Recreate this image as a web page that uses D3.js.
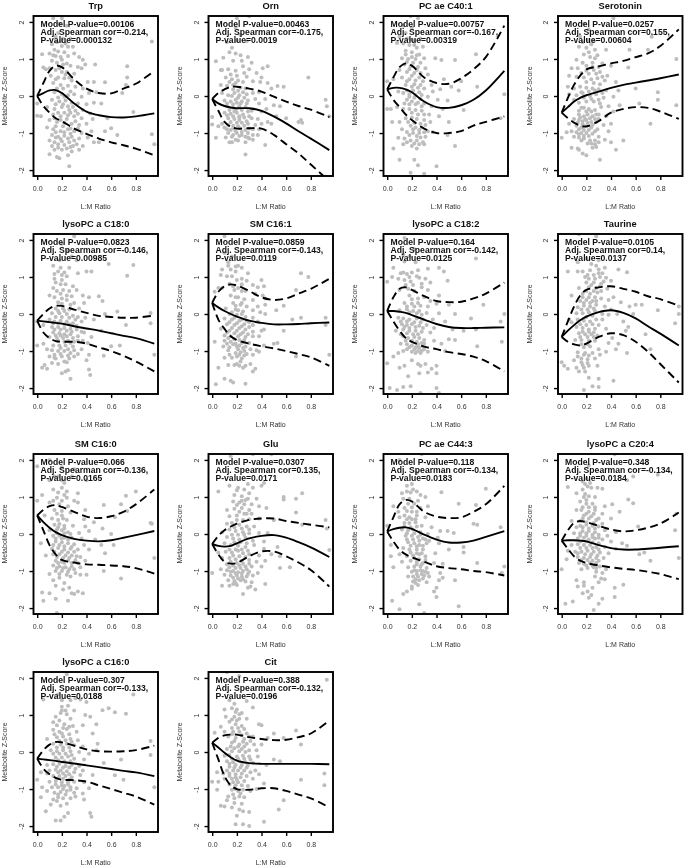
<!DOCTYPE html>
<html><head><meta charset="utf-8">
<script src="https://cdn.jsdelivr.net/npm/d3@7"></script>
<style>
html,body{margin:0;padding:0;background:#fff}
svg{display:block;filter:blur(0.4px)}
text{font-family:"Liberation Sans",Arial,sans-serif}
</style></head><body>
<svg id="chart" width="685" height="866"></svg>
<script>
const titles=["Trp","Orn","PC ae C40:1","Serotonin","lysoPC a C18:0","SM C16:1","lysoPC a C18:2","Taurine","SM C16:0","Glu","PC ae C44:3","lysoPC a C20:4","lysoPC a C16:0","Cit"];
const modelP=["0.00106","0.00463","0.00757","0.0257","0.0823","0.0859","0.164","0.0105","0.066","0.0307","0.118","0.348","0.307","0.388"];
const spearman=["-0.214","-0.175","-0.167","0.155","-0.146","-0.143","-0.142","0.14","-0.136","0.135","-0.134","-0.134","-0.133","-0.132"];
const pvals=["0.000132","0.0019","0.00319","0.00604","0.00985","0.0119","0.0125","0.0137","0.0165","0.0171","0.0183","0.0184","0.0188","0.0196"];
const xTicks=[0,.2,.4,.6,.8];
const yTicks=[-2,-1,0,1,2];
const gridX=[0,.05,.1,.15,.2,.3,.4,.5,.6,.7,.8,.95];

const midCurves=[
[0,.08,.15,.16,.08,-.2,-.42,-.52,-.57,-.58,-.55,-.47],
[-.08,-.2,-.27,-.31,-.33,-.33,-.4,-.55,-.74,-.95,-1.15,-1.46],
[.18,.22,.22,.18,.1,-.15,-.3,-.32,-.25,-.1,.15,.68],
[-.45,-.3,-.15,-.05,.02,.12,.22,.3,.36,.42,.48,.58],
[-.18,-.2,-.22,-.24,-.26,-.33,-.39,-.45,-.52,-.59,-.65,-.8],
[.3,.18,.08,0,-.07,-.18,-.24,-.28,-.28,-.27,-.25,-.23],
[.08,.08,.06,.03,-.03,-.15,-.27,-.35,-.38,-.38,-.37,-.36],
[-.62,-.45,-.3,-.17,-.07,.05,.1,.03,-.12,-.33,-.53,-.85],
[.5,.32,.17,.05,-.03,-.13,-.18,-.2,-.17,-.1,-.03,.08],
[-.27,-.32,-.34,-.32,-.25,-.12,-.05,-.03,-.1,-.22,-.36,-.62],
[.07,.13,.17,.18,.14,-.02,-.15,-.23,-.23,-.18,-.08,.08],
[-.18,-.17,-.17,-.18,-.2,-.3,-.38,-.42,-.42,-.4,-.37,-.33],
[-.18,-.2,-.22,-.24,-.27,-.31,-.36,-.41,-.46,-.51,-.55,-.65],
[.25,.12,-.02,-.14,-.23,-.3,-.32,-.32,-.32,-.32,-.32,-.33]];
const upperCurves=[
[0,.35,.68,.82,.78,.45,.2,.08,.07,.2,.33,.68],
[-.08,.08,.18,.25,.25,.2,.12,-.02,-.15,-.27,-.37,-.57],
[.18,.5,.78,.88,.82,.5,.35,.33,.48,.72,1.05,1.9],
[-.45,-.05,.3,.55,.72,.8,.88,.95,1.05,1.15,1.35,1.8],
[-.18,0,.15,.22,.22,.12,.03,-.05,-.08,-.1,-.1,-.04],
[.3,.6,.75,.8,.77,.62,.45,.38,.42,.55,.68,.95],
[.08,.45,.68,.72,.65,.48,.35,.32,.33,.42,.55,.85],
[-.62,-.2,.2,.5,.65,.72,.75,.68,.6,.48,.4,.22],
[.5,.65,.75,.78,.73,.6,.47,.43,.48,.6,.8,1.2],
[-.27,-.05,.1,.2,.28,.38,.42,.42,.35,.3,.25,.18],
[.07,.45,.8,.92,.88,.6,.47,.43,.45,.6,.8,1.3],
[-.18,.1,.3,.35,.32,.22,.12,.07,.1,.17,.28,.58],
[-.18,.05,.2,.27,.26,.17,.07,.02,.01,.02,.05,.17],
[.25,.38,.45,.47,.47,.4,.35,.32,.33,.4,.5,.85]];
const lowerCurves=[
[0,-.27,-.45,-.6,-.68,-.88,-1.02,-1.15,-1.25,-1.33,-1.42,-1.6],
[-.08,-.4,-.7,-.83,-.88,-.87,-.88,-1.05,-1.3,-1.55,-1.85,-2.3],
[.18,-.1,-.3,-.5,-.65,-.88,-1,-1,-.95,-.8,-.7,-.55],
[-.45,-.6,-.72,-.8,-.82,-.68,-.45,-.35,-.3,-.32,-.42,-.62],
[-.18,-.5,-.65,-.73,-.75,-.75,-.8,-.9,-1,-1.13,-1.28,-1.55],
[.3,-.15,-.4,-.6,-.7,-.8,-.87,-.93,-1,-1.08,-1.17,-1.4],
[.08,-.2,-.45,-.65,-.75,-.88,-.95,-1.03,-1.08,-1.15,-1.27,-1.55],
[-.62,-.75,-.82,-.85,-.8,-.62,-.52,-.57,-.75,-1.02,-1.35,-1.85],
[.5,.1,-.3,-.55,-.7,-.77,-.82,-.83,-.85,-.87,-.92,-1.07],
[-.27,-.55,-.75,-.8,-.78,-.6,-.47,-.47,-.6,-.77,-.97,-1.42],
[.07,-.2,-.42,-.55,-.63,-.75,-.87,-.92,-.95,-1,-1.03,-1.12],
[-.18,-.4,-.6,-.72,-.78,-.85,-.9,-.94,-.97,-1.02,-1.08,-1.22],
[-.18,-.45,-.6,-.7,-.75,-.76,-.8,-.9,-1,-1.1,-1.2,-1.42],
[.25,-.2,-.65,-.9,-1,-1.02,-.98,-.98,-1.05,-1.15,-1.25,-1.5]];

// x,y alternating
const pointsTrp=[.93,1.47,.95,-1.3,.93,-1.03,.73,.8,.73,.5,.72,.3,.69,.08,.78,-.43,.55,.37,.47,.85,.39,.85,.46,.38,.41,.38,.04,1.13,.05,.77,.07,.72,0,-.2,0,-.53,.03,-.55,.26,-1.9,.2,2.1,.13,2.1,.18,1.95,.24,1.9,.17,1.7,.21,1.55,.27,1.55,.16,1.45,.12,1.4,.2,1.35,.25,1.33,.29,1.33,.14,1.25,.17,1.2,.22,1.18,.3,1.15,.1,1.15,.13,1.1,.19,1.05,.25,1.08,.34,1.05,.37,.98,.12,.95,.16,.9,.21,.85,.27,.82,.33,.78,.36,.75,.1,.75,.15,.7,.2,.65,.24,.65,.3,.6,.11,.55,.17,.5,.22,.48,.28,.42,.13,.35,.19,.3,.25,.28,.31,.25,.37,.2,.14,.1,.2,.05,.25,.02,.3,.05,.36,-.02,.42,.08,.48,.1,.12,-.1,.18,-.15,.23,-.12,.28,-.18,.33,-.2,.4,-.22,.46,-.18,.52,-.2,.08,-.3,.14,-.35,.2,-.3,.26,-.38,.31,-.4,.37,-.38,.43,-.47,.13,-.5,.19,-.55,.25,-.52,.3,-.55,.36,-.6,.45,-.62,.57,-.6,.1,-.65,.16,-.7,.22,-.72,.28,-.75,.34,-.78,.4,-.75,.08,-.85,.13,-.9,.19,-.95,.25,-.9,.3,-.95,.36,-1,.44,-.95,.55,-.95,.6,-.87,.65,-1.05,.12,-1.05,.17,-1.1,.22,-1.07,.28,-1.1,.34,-1.15,.41,-1.12,.46,-1.25,.5,-1.25,.1,-1.2,.14,-1.25,.2,-1.22,.26,-1.25,.32,-1.3,.37,-1.35,.12,-1.35,.17,-1.4,.24,-1.42,.29,-1.35,.34,-1.45,.1,-1.57,.16,-1.65,.18,-1.68,.25,-1.6,.28,-1.5];
const pointsOrn=[.92,-.1,.93,-.28,.95,-.55,.78,.5,.73,-.72,.72,-.65,.58,.25,.53,.27,.48,.2,.45,.8,.41,.75,.03,.94,.07,.7,0,-.57,0,-.77,.03,-1.13,.27,-1.58,.43,-1.32,.2,2.1,.3,2.15,.19,1.85,.23,1.65,.12,1.45,.2,1.5,.28,1.48,.16,1.3,.14,1.18,.19,1.15,.23,1.1,.29,1.05,.09,1.03,.17,.95,.24,.95,.32,.9,.08,.7,.13,.72,.19,.68,.25,.8,.3,.72,.36,.62,.4,.5,.11,.5,.16,.45,.21,.42,.28,.52,.33,.4,.39,.38,.45,.35,.07,.3,.12,.28,.17,.3,.23,.22,.27,.2,.33,.08,.38,.1,.08,.08,.13,.02,.18,.08,.22,.02,.28,.05,.35,-.08,.43,-.08,.5,-.25,.55,-.28,.1,-.12,.15,-.15,.19,-.1,.24,-.15,.29,-.12,.38,-.2,.44,-.35,.12,-.28,.17,-.32,.22,-.28,.27,-.3,.32,-.4,.4,-.42,.52,-.55,.6,-.6,.7,-.7,.1,-.45,.15,-.48,.2,-.45,.25,-.5,.3,-.55,.37,-.62,.45,-.7,.13,-.6,.18,-.62,.22,-.65,.28,-.68,.35,-.78,.4,-.75,.48,-.75,.08,-.75,.13,-.78,.17,-.8,.21,-.82,.26,-.8,.3,-.88,.38,-.9,.05,-.82,.1,-.85,.15,-.92,.19,-.95,.24,-.97,.29,-1,.33,-1.05,.13,-1,.17,-1.05,.22,-1.08,.27,-1.1,.37,-1.05,.14,-1.25,.16,-1.25,.21,-1.2,.27,-1.25,.3,-1.15];
const pointsC40=[.95,.05,.92,-.6,.72,1.13,.73,.25,.6,.4,.55,.97,.44,.97,.62,-.38,.55,-1.35,.58,.15,.4,-1.9,.3,-2.1,.19,-2.07,.25,-1.87,.22,-1.72,.1,-1.72,.05,-1.42,.03,-.35,0,-.35,0,.4,.05,.45,.08,1.43,.19,2.15,.25,2.1,.13,1.9,.2,1.85,.1,1.6,.16,1.55,.22,1.5,.27,1.55,.13,1.42,.18,1.38,.24,1.3,.29,1.33,.15,1.22,.2,1.18,.26,1.12,.12,1.02,.17,1,.23,1,.3,1.02,.39,1.02,.14,.85,.19,.8,.25,.78,.31,.75,.1,.7,.16,.65,.22,.62,.27,.62,.33,.58,.12,.5,.18,.45,.23,.42,.29,.4,.36,.3,.46,.45,.15,.3,.2,.25,.25,.22,.3,.2,.37,.12,.43,.18,.52,.25,.09,.12,.13,.08,.18,.05,.23,.02,.28,.03,.33,-.02,.41,-.1,.49,-.12,.16,-.1,.2,-.15,.25,-.18,.3,-.2,.36,-.28,.45,-.35,.08,-.3,.13,-.35,.18,-.35,.23,-.38,.28,-.4,.34,-.5,.42,-.55,.1,-.7,.15,-.6,.2,-.58,.24,-.62,.3,-.65,.35,-.7,.5,-.7,.04,-.7,.19,-.8,.23,-.85,.28,-.85,.33,-.95,.12,-.9,.16,-.97,.21,-1,.26,-1,.31,-1.1,.37,-.98,.49,-1.05,.09,-1.13,.14,-1.15,.19,-1.2,.24,-1.2,.29,-1.25,.13,-1.3,.2,-1.35,.26,-1.3];
const pointsSer=[.93,1,.93,-.25,.73,1.6,.72,-.75,.7,1.25,.55,1.25,.54,.77,.6,.2,.63,-.2,.78,-.1,.78,.1,.42,2.1,.44,-1.45,.5,-1.2,.4,-1.25,.31,-1.72,0,-1.13,.04,-.98,.18,1.95,.22,1.8,.15,1.6,.21,1.52,.26,1.48,.14,1.33,.2,1.3,.27,1.25,.36,1.25,.18,1.12,.23,1.05,.29,1.1,.12,.98,.17,.9,.25,.9,.33,.88,.4,.82,.08,.75,.13,.75,.2,.68,.26,.7,.31,.65,.37,.55,.06,.55,.12,.52,.18,.5,.24,.45,.29,.48,.35,.42,.44,.38,.05,.25,.1,.2,.15,.25,.2,.22,.25,.2,.3,.18,.36,.15,.46,.15,.06,.05,.12,.02,.17,.08,.23,.0,.28,.05,.34,-.05,.42,-.02,.1,-.1,.14,-.18,.2,-.15,.26,-.15,.31,-.2,.38,-.28,.47,-.25,.18,-.32,.22,-.35,.27,-.38,.32,-.3,.42,-.42,.14,-.5,.18,-.55,.21,-.5,.25,-.55,.3,-.5,.36,-.55,.06,-.75,.1,-.62,.14,-.65,.17,-.68,.2,-.65,.24,-.7,.28,-.7,.34,-.78,.4,-.75,.12,-.8,.16,-.85,.2,-.82,.24,-.85,.29,-.9,.38,-.95,.08,-.95,.12,-.98,.16,-1,.2,-1,.25,-1.02,.3,-1.1,.1,-1.1,.14,-1.12,.18,-1.15,.23,-1.2,.27,-1.2,.35,-1.18,.08,-1.4,.13,-1.42,.17,-1.55,.2,-1.6,.25,-1.4,.28,-1.38,.14,-1.45];
const pointsC180=[.95,-1.1,.92,-.25,.92,.03,.78,1.32,.73,1.03,.72,-.3,.65,.07,.58,1.35,.67,-.85,.6,-.87,.54,-1.13,.43,-1.65,.42,-1.5,.27,-1.75,.2,-1.6,.04,-1.45,0,-.85,.05,-.8,0,-.2,.3,2.1,.2,1.9,.25,1.7,.28,1.55,.32,1.45,.18,1.45,.13,1.3,.19,1.25,.26,1.25,.4,1.15,.44,1.15,.33,1.1,.14,1.08,.2,1.05,.24,1.02,.15,.85,.19,.8,.23,.8,.29,.75,.13,.7,.21,.65,.26,.62,.32,.65,.1,.5,.14,.45,.2,.42,.37,.5,.42,.45,.5,.48,.53,.35,.17,.32,.24,.38,.3,.3,.38,.3,.55,.0,.15,.15,.21,.15,.26,.12,.34,.15,.12,.02,.18,.02,.24,.0,.29,-.05,.33,-.08,.39,-.1,.46,-.15,.1,-.15,.14,-.2,.19,-.18,.24,-.2,.29,-.25,.36,-.2,.52,-.45,.05,-.3,.12,-.35,.17,-.35,.22,-.38,.27,-.4,.32,-.42,.38,-.5,.13,-.5,.18,-.52,.22,-.55,.27,-.55,.33,-.6,.44,-.62,.1,-.62,.16,-.65,.21,-.65,.25,-.72,.3,-.75,.37,-.72,.41,-.78,.13,-.85,.18,-.85,.23,-.85,.29,-.88,.36,-.95,.08,-.95,.12,-.98,.17,-1,.22,-1,.27,-1.05,.33,-1.08,.42,-1.1,.1,-1.15,.15,-1.2,.2,-1.15,.26,-1.2,.4,-1.25,.12,-1.32,.17,-1.35,.24,-1.3,.06,-1.38,.08,-1.48,.23,-1.55,.25,-1.52];
const pointsC161=[.95,-1.1,.92,-.1,.92,-.3,.72,1.1,.78,1,.68,.65,.65,-.15,.58,.22,.58,-.45,.52,.1,.5,-.8,.72,-.1,.68,-1.15,.02,.6,.05,.7,.02,-.75,.05,-1.45,.03,-1.9,.1,-1.75,.15,-1.8,.17,-1.85,.27,-1.88,.1,2.1,.1,1.65,.16,1.55,.13,1.4,.08,1.2,.15,1.2,.21,1.3,.24,1.25,.19,1.15,.29,1.1,.07,1.05,.12,1.02,.2,.92,.28,.9,.4,.92,.42,.75,.14,.82,.24,.8,.33,.78,.37,.72,.08,.7,.18,.65,.27,.62,.35,.55,.41,.5,.43,.42,.15,.5,.21,.45,.26,.4,.33,.38,.37,.2,.43,.25,.17,.3,.23,.25,.28,.2,.11,.15,.19,.12,.25,.07,.33,.1,.39,.05,.43,.0,.14,.0,.2,-.02,.27,-.08,.33,-.1,.1,-.12,.16,-.15,.22,-.18,.3,-.22,.37,-.2,.12,-.28,.18,-.3,.24,-.33,.3,-.35,.42,-.42,.07,-.4,.14,-.45,.2,-.45,.25,-.5,.33,-.48,.4,-.45,.1,-.58,.15,-.6,.21,-.6,.27,-.62,.38,-.6,.1,-.72,.15,-.75,.19,-.8,.24,-.78,.3,-.78,.42,-.85,.53,-.78,.09,-.88,.14,-.9,.2,-.88,.25,-.92,.31,-.95,.36,-.98,.1,-1.18,.14,-1.1,.19,-1.05,.23,-1.03,.28,-1.08,.33,-1.1,.38,-1.02,.2,-1.15,.24,-1.2,.13,-1.38,.2,-1.35,.22,-1.4,.27,-1.4,.31,-1.35,.33,-1.55,.35,-1.48,.25,-1.45];
const pointsC182=[.95,0,.93,-.75,.92,-.2,.72,1.5,.73,-.87,.78,.25,.68,-.12,.62,-.45,.72,-.42,.55,0,.42,1.25,.46,1.15,.49,.9,0,-1.33,0,.87,.02,-2,.08,-2.05,.13,-1.97,.19,-1.95,.1,-1.45,.05,-1.15,.27,-2.13,.42,-2.13,.4,-2,.4,-1.4,.4,-1.6,.14,2.05,.22,1.75,.13,1.6,.18,1.55,.14,1.42,.23,1.4,.05,1.25,.11,1.1,.16,1.08,.2,1.12,.33,1.22,.25,1.18,.04,1,.09,.95,.14,.92,.19,.88,.26,.98,.31,.95,.35,.85,.1,.65,.17,.68,.22,.62,.28,.72,.33,.65,.42,.5,.18,.5,.25,.42,.3,.45,.35,.35,.5,.25,.14,.3,.2,.28,.27,.22,.33,.2,.4,.28,.1,.1,.16,.13,.21,.08,.26,.08,.32,.03,.42,.02,.09,-.1,.13,-.12,.18,-.15,.24,-.12,.29,-.15,.37,-.15,.47,-.2,.53,-.42,.12,-.28,.16,-.3,.2,-.28,.26,-.32,.32,-.3,.38,-.38,.07,-.45,.13,-.42,.18,-.45,.23,-.45,.28,-.48,.35,-.5,.5,-.68,.55,-.7,.13,-.6,.17,-.65,.22,-.62,.26,-.65,.3,-.7,.38,-.72,.44,-.8,.11,-.8,.16,-.82,.2,-.85,.25,-.88,.29,-.88,.09,-1.05,.16,-.95,.22,-.95,.25,-1,.28,-1,.33,-1.02,.47,-1,.13,-1,.25,-1.35,.27,-1.4,.31,-1.35,.17,-1.68,.26,-1.6,.33,-1.58,.36,-1.48,.14,-1.4,.2,-1.25];
const pointsTau=[.95,0,.95,.2,.92,-.25,.72,-.95,.68,-.55,.78,.1,.65,.25,.6,.25,.58,0,.53,-1.05,.53,1.13,.46,1.2,.42,-1.8,.3,-1.75,.25,-1.95,.18,-2.05,.3,-1.97,0,-1.3,.02,-1.4,.05,-1.48,.05,1.15,.13,1.15,.14,2.15,.28,2.1,.2,1.5,.13,1.4,.3,1.45,.17,1.15,.23,1.18,.3,1.2,.35,1.25,.26,1.05,.19,1,.31,1,.36,.98,.2,.85,.26,.85,.32,.82,.4,.9,.14,.7,.22,.72,.28,.7,.37,.68,.08,.5,.17,.55,.23,.55,.29,.58,.42,.45,.48,.32,.15,.35,.2,.38,.25,.35,.32,.42,.38,.38,.55,.2,.13,.18,.18,.22,.23,.2,.28,.25,.35,.2,.4,.12,.45,.0,.06,-.15,.12,.02,.17,.02,.22,.05,.27,.08,.33,.0,.38,-.02,.08,-.22,.13,-.15,.18,-.18,.23,-.2,.28,-.15,.33,-.15,.5,-.2,.54,-.35,.12,-.35,.17,-.38,.22,-.42,.27,-.4,.36,-.4,.52,-.45,.14,-.52,.19,-.55,.24,-.55,.29,-.58,.41,-.65,.11,-.7,.16,-.7,.22,-.72,.27,-.72,.38,-.78,.46,-.8,.44,-.95,.18,-.9,.23,-.88,.3,-.95,.36,-1.02,.13,-1.03,.19,-1.05,.25,-1.05,.31,-1.1,.1,-1.25,.16,-1.2,.21,-1.22,.27,-1.2,.12,-1.45,.17,-1.38,.22,-1.4,.19,-1.55,.22,-1.72,.14,-1.55,.29,-1.4];
const pointsC160=[.95,-.65,.93,.28,.92,.3,.8,1.15,.72,1.03,.73,.62,.68,.8,.68,-1.2,.63,.45,.54,.78,.53,.15,.54,-1,.62,-.3,.6,0,0,1.83,0,.9,.04,1.05,.03,-.25,.04,-1.58,.05,-1.8,.1,-1.6,.16,-2.13,.15,-1.75,.25,-1.8,.3,-1.62,.33,-1.55,.37,-1.6,.1,1.45,.1,2,.2,1.8,.3,1.75,.14,1.55,.2,1.45,.4,1.45,.28,1.55,.13,1.2,.2,1.25,.24,1.15,.33,1.1,.16,.98,.24,.98,.3,.9,.1,.85,.18,.8,.25,.75,.33,.85,.39,.65,.14,.65,.2,.62,.27,.58,.06,.5,.12,.42,.17,.38,.21,.42,.38,.4,.46,.32,.14,.25,.18,.27,.22,.22,.29,.22,.39,.2,.1,.1,.16,.12,.2,.1,.25,.05,.34,.03,.42,.08,.13,-.05,.18,-.05,.22,-.1,.28,-.1,.36,-.12,.47,-.15,.52,-.3,.15,-.2,.2,-.22,.25,-.25,.3,-.28,.38,-.3,.12,-.4,.17,-.38,.22,-.42,.27,-.4,.33,-.42,.42,-.42,.55,-.52,.07,-.58,.13,-.55,.18,-.55,.23,-.58,.28,-.58,.35,-.62,.15,-.72,.2,-.75,.25,-.72,.31,-.7,.39,-.72,.13,-.85,.18,-.88,.23,-.9,.28,-.88,.35,-.9,.1,-1.08,.15,-1,.2,-1,.25,-1.02,.31,-1.05,.4,-1.1,.13,-1.25,.18,-1.18,.22,-1.32,.27,-1.15,.35,-1.1,.15,-1.4,.21,-1.5,.26,-1.45,.28,-1.6];
const pointsGlu=[.95,-.43,.92,.38,.93,.15,.73,1.1,.68,.95,.68,.58,.73,.25,.63,-.9,.58,1,.58,.93,.55,-.92,.5,.38,.55,-.6,.42,1.38,.43,-1.35,.35,-1.5,.25,-1.62,.05,1.15,0,-1.05,.08,-1.4,.15,2.1,.33,2.15,.48,2.15,.14,1.3,.21,1.25,.29,1.35,.33,1.25,.4,1.3,.3,1.1,.18,1.05,.24,1.02,.36,.95,.17,.88,.22,.85,.27,.92,.44,.7,.12,.65,.18,.68,.24,.7,.3,.65,.38,.75,.14,.48,.2,.5,.26,.55,.32,.55,.38,.42,.5,.38,.12,.28,.16,.3,.22,.25,.28,.2,.34,.2,.08,.05,.14,.12,.19,.08,.25,.05,.3,.02,.38,.03,.45,.03,.12,-.08,.17,-.12,.22,-.15,.27,-.1,.33,-.18,.42,-.2,.1,-.25,.15,-.3,.21,-.32,.27,-.35,.34,-.3,.42,-.4,.53,-.35,.05,-.5,.11,-.48,.16,-.5,.21,-.45,.25,-.52,.3,-.55,.38,-.58,.48,-.55,.08,-.65,.14,-.65,.19,-.68,.24,-.72,.3,-.7,.36,-.75,.43,-.72,.12,-.82,.17,-.85,.22,-.85,.27,-.88,.32,-.88,.4,-.88,.07,-.95,.12,-.98,.17,-1,.21,-1.03,.25,-1,.3,-1.02,.37,-1.05,.1,-1.1,.15,-1.12,.2,-1.12,.24,-1.15,.28,-1.15,.33,-1.12,.13,-1.25,.18,-1.27,.23,-1.25,.27,-1.28,.32,-1.3,.14,-1.4,.2,-1.38,.17,-1.35,.29,-1.45,.31,-1.42];
const pointsC443=[.95,-.88,.92,.18,.93,-1.05,.8,1.22,.72,.78,.73,.25,.7,.28,.73,-.78,.58,.82,.58,-1.95,.62,-.5,.62,-.35,.54,.03,.55,-1.25,.44,1.13,.04,-1.8,.1,-2.03,.26,-1.9,.3,-2.13,0,.22,.03,-.3,.03,-.6,.05,-.9,.4,-1.7,.38,-1.55,.28,2.15,.1,2,.24,1.65,.16,1.3,.2,1.35,.12,1.1,.16,1.15,.21,1.2,.27,1.05,.31,1,.13,.95,.18,.95,.25,.9,.33,.75,.05,.75,.09,.6,.14,.7,.2,.72,.27,.7,.1,.45,.14,.5,.18,.45,.24,.5,.31,.45,.14,.3,.18,.3,.23,.32,.28,.22,.36,.18,.43,.08,.49,.08,.12,.12,.17,.1,.21,.12,.27,.05,.33,0,.41,-.1,.15,-.05,.2,-.05,.25,-.08,.29,-.12,.34,-.18,.17,-.22,.22,-.25,.26,-.3,.32,-.25,.42,-.25,.5,-.42,.13,-.38,.18,-.42,.24,-.42,.29,-.42,.39,-.52,.1,-.55,.16,-.6,.21,-.58,.26,-.55,.31,-.6,.12,-.75,.19,-.72,.24,-.75,.29,-.78,.38,-.78,.45,-.8,.17,-.9,.22,-.88,.27,-.88,.32,-.92,.2,-1.02,.24,-1,.29,-1,.33,-1.05,.43,-1.05,.45,-1.18,.17,-1.15,.21,-1.15,.25,-1.15,.3,-1.12,.34,-1.15,.21,-1.28,.26,-1.25,.32,-1.3,.42,-1.25,.2,-1.42,.25,-1.38,.13,-1.62,.16,-1.55,.2,-1.48,.4,-1.45];
const pointsC204=[.95,-.65,.92,.1,.93,.55,.78,1.6,.72,-.72,.67,-.5,.63,-.55,.62,.2,.58,.83,.54,.93,.53,1.45,.58,1.55,0,-.95,.03,-1.88,.09,-1.82,.26,-2.05,.33,-1.75,.3,-1.88,.43,-1.7,.5,-1.37,.43,-1.45,.05,1.27,.43,2.15,.22,1.85,.2,1.5,.17,1.42,.23,1.38,.17,1.2,.24,1.25,.29,1.25,.33,1.22,.12,1.1,.18,1,.22,1.02,.27,1,.15,.88,.2,.82,.25,.82,.35,.75,.41,.8,.12,.65,.16,.65,.22,.6,.27,.65,.33,.55,.47,.6,.18,.5,.24,.48,.3,.42,.4,.42,.08,.35,.15,.35,.2,.32,.26,.3,.33,.28,.12,.18,.17,.18,.22,.15,.27,.15,.35,.1,.44,.05,.1,.02,.15,.02,.2,.02,.25,-.02,.3,-.02,.37,-.05,.49,-.25,.13,-.12,.18,-.1,.22,-.15,.27,-.12,.33,-.15,.4,-.2,.53,-.32,.08,-.3,.13,-.28,.18,-.3,.23,-.3,.28,-.35,.35,-.35,.44,-.4,.05,-.45,.11,-.48,.16,-.48,.21,-.45,.26,-.48,.31,-.5,.38,-.52,.13,-.62,.18,-.65,.23,-.62,.28,-.65,.34,-.65,.04,-.68,.14,-.78,.18,-.8,.23,-.78,.28,-.78,.16,-.95,.21,-.92,.26,-.9,.31,-.88,.28,-1.02,.33,-1.05,.36,-.95,.27,-1.15,.32,-1.2,.35,-1.22,.12,-1.25,.18,-1.3,.13,-1.42,.18,-1.4,.21,-1.55,.25,-1.45,.24,-1.65,.17,-1.6,.22,-1.72,.3,-1.3];
const pointsC16a=[.95,-.95,.92,.3,.92,-.08,.78,1.55,.72,1.03,.63,1.07,.58,1.18,.53,1.13,.49,.22,.7,-.75,.63,-.63,.68,-.2,0,-.75,.03,-1.22,.04,-.95,.07,-1.6,.15,-1.85,.19,-1.85,.22,-1.75,.43,-1.65,.44,-1.75,.25,-1.65,.24,2.1,.05,1.42,.17,1.55,.2,1.4,.27,1.4,.31,1.45,.35,1.42,.2,1.22,.25,1.25,.3,1.12,.4,1.35,.19,1.05,.24,1.02,.15,.95,.27,.9,.39,1,.43,.95,.13,.8,.18,.85,.22,.75,.29,.7,.37,.72,.48,.75,.13,.6,.18,.55,.24,.62,.32,.55,.45,.5,.08,.35,.16,.4,.21,.42,.27,.35,.33,.32,.13,.22,.19,.2,.24,.22,.3,.18,.37,.15,.48,.05,.11,.05,.16,.02,.21,.05,.27,.02,.34,0,.42,-.05,.15,-.15,.2,-.15,.25,-.12,.3,-.18,.38,-.2,.54,-.3,.08,-.35,.13,-.33,.18,-.32,.23,-.38,.28,-.35,.34,-.38,.1,-.5,.15,-.48,.19,-.5,.24,-.52,.3,-.55,.37,-.5,.45,-.62,.03,-.55,.08,-.58,.13,-.65,.18,-.65,.23,-.65,.28,-.68,.35,-.62,.1,-.8,.15,-.78,.2,-.82,.25,-.82,.3,-.8,.38,-.82,.12,-.95,.17,-.95,.22,-.92,.27,-.95,.32,-.98,.42,-.98,.08,-1.05,.14,-1.1,.19,-1.08,.24,-1.05,.3,-1.1,.37,-1.12,.13,-1.28,.17,-1.22,.21,-1.25,.27,-1.25,.31,-1.2,.38,-1.28,.11,-1.42,.19,-1.45,.24,-1.4];
const pointsCit=[.93,1.95,.91,-.58,.91,-.9,.72,.2,.72,-.75,.68,.58,.58,.38,.58,-1.3,.55,-.25,.54,-1.55,.5,.5,.42,-1.88,.3,-1.62,.25,-1.6,.3,-2,.25,-1.95,.2,-1.72,.19,-1.95,.02,.52,.07,.68,0,-.8,.04,-1.02,.07,-1.45,.1,-1.47,.12,2.15,.22,2.05,.14,1.4,.18,1.3,.28,1.38,.33,1.2,.1,1.15,.16,1.18,.2,1.15,.24,1.05,.11,.95,.18,.95,.22,.9,.28,.9,.14,.82,.19,.75,.24,.7,.38,.75,.4,.72,.1,.55,.17,.55,.22,.55,.28,.5,.13,.42,.19,.38,.26,.35,.33,.42,.45,.38,.16,.25,.22,.2,.28,.22,.34,.2,.4,.2,.12,.08,.18,.1,.24,.08,.3,.05,.36,.05,.1,-.1,.14,-.08,.2,-.12,.25,-.1,.3,-.12,.37,-.12,.5,-.2,.12,-.25,.17,-.28,.22,-.25,.27,-.28,.33,-.3,.44,-.35,.14,-.4,.18,-.42,.23,-.42,.28,-.42,.35,-.5,.04,-.55,.09,-.58,.14,-.58,.19,-.6,.24,-.58,.31,-.55,.38,-.6,.1,-.72,.16,-.72,.2,-.75,.26,-.78,.33,-.72,.05,-.8,.14,-.88,.19,-.9,.24,-.9,.29,-.92,.42,-.85,.16,-1.02,.21,-1.05,.25,-1.02,.31,-1.05,.13,-1.2,.17,-1.15,.22,-1.2,.26,-1.22,.12,-1.3,.18,-1.38,.24,-1.4,.16,-1.5,.22,-1.55,.36,-1];

// second pass over the dense middle of each cloud
const denseTrp=[.15,1.6,.19,1.48,.23,1.42,.15,1.08,.2,.98,.24,.88,.18,.75,.23,.58,.26,.5,.15,.45,.21,.2,.16,.2,.27,.12,.22,-.02,.17,-.04,.15,-.22,.21,-.22,.25,-.28,.29,-.3,.17,-.45,.22,-.45,.27,-.45,.33,-.48,.14,-.6,.19,-.65,.24,-.62,.31,-.68,.15,-.82,.21,-.82,.27,-.88,.33,-.88,.15,-.98,.22,-.98,.27,-1.02,.15,-1.12,.19,-1.16,.25,-1.15,.3,-1.2,.17,-1.3,.22,-1.32,.27,-1.38,.14,-1.45,.2,-1.45];
const denseOrn=[.15,.58,.2,.55,.26,.62,.14,.38,.19,.35,.25,.38,.17,.18,.21,.14,.25,.1,.16,0,.21,-.05,.26,-.05,.12,-.2,.17,-.22,.23,-.2,.28,-.2,.14,-.38,.19,-.38,.24,-.38,.29,-.42,.12,-.52,.17,-.55,.22,-.55,.26,-.58,.32,-.6,.15,-.7,.2,-.72,.24,-.72,.29,-.75,.12,-.9,.17,-.88,.23,-.88,.27,-.92,.33,-.9,.2,-1,.24,-1.05,.29,-1.12,.19,-1.18,.33,-1.18,.11,-1.12,.16,-1.1,.22,-.58,.18,-.42,.2,-.18];
const denseC40=[.15,1.7,.19,1.52,.22,1.38,.15,1.12,.2,1.05,.24,1.1,.16,.92,.21,.9,.27,.9,.18,.72,.24,.7,.2,.55,.26,.5,.16,.4,.22,.32,.27,.3,.16,.15,.21,.15,.26,.1,.18,-.02,.22,-.05,.27,-.08,.14,-.2,.18,-.22,.23,-.22,.28,-.28,.2,-.45,.25,-.5,.3,-.5,.17,-.7,.22,-.72,.27,-.75,.31,-.78,.21,-.9,.26,-.92,.3,-.98,.18,-1.05,.24,-1.08,.27,-1.12,.22,-1.28,.16,-1.25,.3,-1.3,.24,-1.42];
const denseSer=[.17,1.45,.24,1.4,.22,1.18,.27,1.02,.2,.82,.25,.78,.3,.78,.16,.62,.22,.6,.28,.6,.33,.52,.2,.38,.26,.35,.31,.32,.16,.1,.22,.12,.27,.15,.33,.08,.18,-.05,.24,-.08,.3,-.1,.16,-.32,.2,-.42,.24,-.42,.28,-.5,.14,-.4,.15,-.58,.19,-.62,.23,-.6,.27,-.62,.3,-.62,.13,-.72,.17,-.76,.21,-.72,.25,-.78,.14,-.9,.18,-.92,.22,-.92,.27,-.95,.14,-1.03,.18,-1.08,.22,-1.08,.16,-1.2,.21,-1.28,.27,-1.3,.3,-1.25,.24,-1.28];
const denseC180=[.17,1.15,.22,1.12,.14,.95,.2,.92,.16,.62,.19,.55,.24,.5,.28,.48,.2,.28,.27,.25,.17,.08,.22,.08,.15,-.08,.2,-.08,.26,-.1,.31,-.15,.13,-.25,.17,-.25,.22,-.28,.26,-.28,.32,-.32,.14,-.42,.19,-.42,.24,-.45,.28,-.48,.36,-.48,.15,-.58,.19,-.58,.24,-.6,.29,-.65,.17,-.72,.22,-.75,.27,-.78,.33,-.72,.19,-.92,.25,-.95,.3,-.98,.14,-1.1,.19,-1.08,.25,-1.12,.3,-1.15,.22,-1.28,.14,-1.18];
const denseC161=[.13,1.3,.19,1.28,.16,1.02,.24,.95,.17,.75,.21,.7,.24,.62,.19,.45,.24,.3,.19,.22,.21,.1,.16,.05,.24,0,.18,-.1,.24,-.15,.28,-.18,.14,-.22,.2,-.25,.26,-.28,.33,-.3,.16,-.38,.22,-.38,.27,-.42,.12,-.5,.18,-.52,.23,-.55,.29,-.55,.33,-.6,.13,-.65,.18,-.68,.22,-.7,.26,-.7,.12,-.8,.17,-.82,.22,-.85,.27,-.88,.13,-.98,.21,-.95,.26,-1,.22,-1.1,.26,-1.12,.16,-1.18,.23,-1.28,.18,-1.38];
const denseC182=[.13,1.12,.18,1,.24,1.02,.21,.78,.28,.82,.15,.78,.2,.4,.25,.3,.16,.2,.22,.2,.18,.05,.24,.02,.28,-.02,.11,-.2,.16,-.2,.22,-.22,.27,-.22,.14,-.35,.18,-.38,.23,-.35,.29,-.38,.11,-.55,.16,-.52,.21,-.55,.25,-.55,.15,-.72,.2,-.72,.24,-.75,.28,-.78,.18,-.9,.23,-.9,.26,-.92,.2,-1.02,.27,-1.05,.23,-1.05,.3,-.95,.25,-.82,.3,-.8];
const denseTau=[.24,1.35,.28,1.3,.21,1.05,.3,1.1,.33,1.1,.22,.95,.27,.95,.34,.88,.24,.78,.31,.75,.2,.62,.26,.62,.32,.62,.17,.45,.22,.45,.27,.45,.18,.3,.23,.3,.28,.35,.16,.12,.21,.12,.26,.15,.2,-.08,.25,-.05,.15,-.28,.2,-.3,.25,-.28,.3,-.3,.17,-.48,.22,-.48,.26,-.5,.15,-.62,.21,-.62,.26,-.62,.16,-.82,.21,-.82,.18,-1.1,.22,-1.12,.16,-1.3,.21,-1.32,.18,-1.45,.13,-1.15];
const denseC160=[.17,1.55,.22,1.38,.17,1.12,.22,1.05,.13,.9,.2,.9,.16,.55,.2,.5,.24,.38,.17,.18,.22,.15,.16,.02,.22,.02,.27,0,.15,-.12,.2,-.12,.25,-.15,.13,-.3,.18,-.3,.22,-.33,.28,-.35,.14,-.48,.2,-.48,.25,-.5,.3,-.48,.16,-.62,.21,-.65,.26,-.65,.32,-.6,.17,-.78,.22,-.78,.28,-.78,.33,-.78,.16,-.92,.21,-.92,.26,-.95,.18,-1.08,.24,-1.1,.3,-.95];
const denseGlu=[.2,1.18,.26,1.2,.24,.9,.29,.95,.2,.78,.26,.8,.32,.8,.22,.6,.28,.55,.2,.38,.25,.38,.3,.4,.18,.18,.24,.15,.3,.12,.16,-.02,.21,-.02,.26,-.02,.18,-.22,.23,-.22,.28,-.25,.14,-.42,.19,-.42,.24,-.42,.29,-.45,.17,-.58,.22,-.6,.27,-.62,.15,-.75,.2,-.78,.25,-.8,.3,-.8,.14,-.9,.19,-.92,.23,-.92,.28,-.95,.15,-1.02,.19,-1.06,.24,-1.06,.29,-1.08,.17,-1.18,.21,-1.2,.25,-1.22,.19,-1.32];
const denseC443=[.19,1.12,.24,1.15,.17,.82,.22,.82,.16,.62,.2,.6,.24,.6,.16,.4,.2,.4,.23,.4,.14,.2,.19,.18,.24,.2,.16,.02,.22,.02,.27,-.02,.16,-.15,.21,-.15,.26,-.18,.31,-.15,.19,-.32,.24,-.33,.29,-.32,.19,-.5,.24,-.52,.28,-.52,.22,-.65,.26,-.68,.31,-.7,.24,-.82,.28,-.82,.22,-.98,.27,-.98,.31,-1.02,.24,-1.08,.28,-1.08,.23,-1.22,.29,-1.2,.23,-1.32];
const denseC204=[.19,1.35,.21,1.28,.19,1.08,.2,.92,.17,.72,.22,.72,.27,.72,.2,.55,.26,.55,.17,.42,.22,.42,.28,.38,.15,.22,.2,.25,.25,.22,.3,.2,.17,.08,.22,.08,.27,.05,.15,-.05,.2,-.05,.25,-.08,.3,-.1,.15,-.2,.2,-.2,.25,-.22,.3,-.25,.15,-.38,.2,-.38,.25,-.38,.3,-.42,.13,-.52,.19,-.55,.24,-.55,.29,-.58,.16,-.7,.21,-.7,.25,-.72,.3,-.72,.2,-.85,.25,-.85,.28,-.92];
const denseC16a=[.2,1.12,.23,1.12,.16,.72,.21,.65,.26,.68,.14,.48,.2,.5,.26,.48,.18,.3,.23,.32,.28,.28,.16,.12,.21,.12,.26,.12,.13,-.05,.18,-.05,.23,-.05,.28,-.08,.17,-.22,.22,-.25,.27,-.25,.16,-.4,.21,-.42,.26,-.42,.31,-.45,.17,-.55,.21,-.58,.26,-.6,.16,-.72,.21,-.72,.26,-.75,.15,-.88,.2,-.9,.25,-.88,.21,-1,.27,-1.02,.17,-1.15,.23,-1.15,.16,-1.32];
const denseCit=[.19,1.08,.22,1.02,.16,.88,.2,.85,.16,.65,.21,.65,.26,.62,.16,.48,.24,.45,.3,.42,.18,.3,.25,.28,.31,.3,.15,.15,.21,.15,.26,.15,.16,.02,.22,.02,.27,0,.16,-.18,.21,-.18,.26,-.18,.31,-.2,.14,-.32,.19,-.35,.24,-.35,.29,-.35,.12,-.5,.17,-.5,.21,-.5,.26,-.5,.14,-.65,.19,-.68,.23,-.68,.28,-.65,.17,-.82,.21,-.82,.19,-1,.23,-1.12,.18,-1.25];
const pointSets=[pointsTrp,pointsOrn,pointsC40,pointsSer,pointsC180,pointsC161,pointsC182,pointsTau,pointsC160,pointsGlu,pointsC443,pointsC204,pointsC16a,pointsCit];
const denseSets=[denseTrp,denseOrn,denseC40,denseSer,denseC180,denseC161,denseC182,denseTau,denseC160,denseGlu,denseC443,denseC204,denseC16a,denseCit];

const frameLeft=[33.5,208.5,383.5,558];
const frameTop=[16,234,454,672];
const fw=124.5, fh=160;
const svg=d3.select("#chart");
const lineGen=(x,y)=>d3.line().x((d,i)=>x(gridX[i])).y(d=>y(d)).curve(d3.curveCatmullRom.alpha(.5));

titles.forEach((title,k)=>{
  const col=k%4,row=Math.floor(k/4);
  const g=svg.append("g").attr("transform",`translate(${frameLeft[col]},${frameTop[row]})`);
  const x=d3.scaleLinear().domain([-.03,.98]).range([0,fw]);
  const y=d3.scaleLinear().domain([-2.16,2.16]).range([fh,0]);
  const clipId="c"+k;
  g.append("clipPath").attr("id",clipId).append("rect").attr("width",fw).attr("height",fh);
  const flat=pointSets[k].concat(denseSets[k]);
  const pts=d3.range(0,flat.length,2).map(i=>[flat[i],flat[i+1]]);
  const body=g.append("g").attr("clip-path",`url(#${clipId})`);
  body.selectAll("circle").data(pts).join("circle").attr("cx",d=>x(d[0])).attr("cy",d=>y(d[1])).attr("r",2).attr("fill","#bdbdbd");
  const lg=lineGen(x,y);
  [upperCurves,lowerCurves].forEach(c=>body.append("path").attr("d",lg(c[k])).attr("fill","none").attr("stroke","#000").attr("stroke-width",1.9).attr("stroke-dasharray","8 4.5"));
  body.append("path").attr("d",lg(midCurves[k])).attr("fill","none").attr("stroke","#000").attr("stroke-width",1.9);

  const axB=d3.axisBottom(x).tickValues(xTicks).tickFormat(d3.format(".1f")).tickSize(4).tickPadding(6);
  const axL=d3.axisLeft(y).tickValues(yTicks).tickFormat(d=>String(d)).tickSize(4).tickPadding(4);
  const ga=g.append("g").attr("transform",`translate(0,${fh})`).call(axB);
  const gl=g.append("g").call(axL);
  [ga,gl].forEach(s=>{s.select(".domain").remove();
    s.selectAll("line").attr("stroke","#000").attr("stroke-width",1.4);
    s.selectAll("text").attr("font-size",7).attr("fill","#333");});
  gl.selectAll(".tick text").attr("x",0).attr("y",0).attr("dy",0).attr("text-anchor","middle").attr("transform","translate(-10,0) rotate(-90)");

  g.append("rect").attr("width",fw).attr("height",fh).attr("fill","none").attr("stroke","#000").attr("stroke-width",1.9);

  g.append("text").attr("x",fw/2).attr("y",-7.5).attr("text-anchor","middle").attr("font-size",9.3).attr("font-weight","bold").attr("fill","#111").text(title);
  g.append("text").attr("x",fw/2).attr("y",fh+32.5).attr("text-anchor","middle").attr("font-size",7).attr("fill","#333").text("L:M Ratio");
  g.append("text").attr("transform",`translate(-26.5,${fh/2}) rotate(-90)`).attr("text-anchor","middle").attr("font-size",7).attr("fill","#333").text("Metabolite Z-Score");
  // one three-line annotation block
  const ann=[`Model P-value=${modelP[k]}`,`Adj. Spearman cor=${spearman[k]},`,`P-value=${pvals[k]}`];
  const block=g.append("text").attr("y",10.5).attr("font-size",8.6).attr("font-weight","bold").attr("fill","#111");
  ann.forEach((t,i)=>block.append("tspan").attr("x",7).attr("dy",i?8:0).text(t));
});
</script>
</body></html>
